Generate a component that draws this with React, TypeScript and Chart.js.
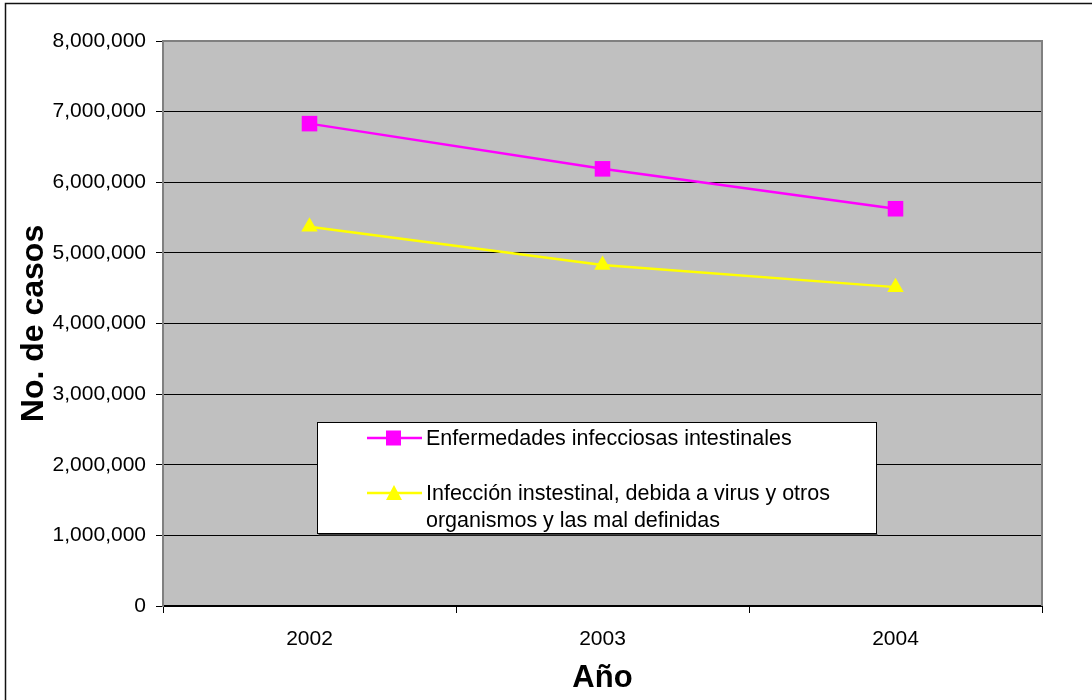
import React, { useEffect, useRef } from "react";
import { Chart, registerables } from "chart.js";

Chart.register(...registerables);

const years = ["2002", "2003", "2004"];
const enfermedades = [6830000, 6190000, 5625000];
const infeccion = [5370000, 4830000, 4515000];
const yMin = 0;
const yMax = 8000000;
const yStep = 1000000;
const xTitle = "Año";
const yTitle = "No. de casos";
const legendLabels = [
  ["Enfermedades infecciosas intestinales"],
  ["Infección instestinal, debida a virus y otros", "organismos y las mal definidas"],
];

const FONT = "'Liberation Sans', Arial, Helvetica, sans-serif";
const MAGENTA = "#FF00FF";
const YELLOW = "#FFFF00";

const decorPlugin = {
  id: "decor",
  beforeDraw(chart: any) {
    const { ctx, chartArea: a, width, height } = chart;
    ctx.save();
    ctx.fillStyle = "#ffffff";
    ctx.fillRect(0, 0, width, height);
    ctx.fillStyle = "#C0C0C0";
    ctx.fillRect(a.left, a.top, a.right - a.left, a.bottom - a.top);
    ctx.strokeStyle = "#111111";
    ctx.lineWidth = 1.5;
    ctx.beginPath();
    ctx.moveTo(5.5, height);
    ctx.lineTo(5.5, 3.5);
    ctx.lineTo(width, 3.5);
    ctx.stroke();
    ctx.restore();
  },
  beforeDatasetsDraw(chart: any) {
    const { ctx, chartArea: a } = chart;
    ctx.save();
    ctx.strokeStyle = "#808080";
    ctx.lineWidth = 2;
    ctx.beginPath();
    ctx.moveTo(a.left, a.top);
    ctx.lineTo(a.right, a.top);
    ctx.lineTo(a.right, a.bottom);
    ctx.stroke();
    ctx.restore();
  },
  afterDraw(chart: any) {
    const { ctx } = chart;
    ctx.save();
    const bx = 317.5, by = 422.5, bw = 559, bh = 111;
    ctx.fillStyle = "#ffffff";
    ctx.fillRect(bx, by, bw, bh);
    ctx.strokeStyle = "#000000";
    ctx.lineWidth = 1;
    ctx.strokeRect(bx, by, bw, bh);
    ctx.fillStyle = "#404040";
    ctx.fillRect(bx + 1, by + bh + 0.5, bw, 1.5);

    const rows = [
      { y: 438, color: MAGENTA, shape: "square" },
      { y: 493, color: YELLOW, shape: "triangle" },
    ];
    rows.forEach((r, i) => {
      ctx.strokeStyle = r.color;
      ctx.lineWidth = 2.5;
      ctx.beginPath();
      ctx.moveTo(367, r.y);
      ctx.lineTo(422, r.y);
      ctx.stroke();
      ctx.fillStyle = r.color;
      if (r.shape === "square") {
        ctx.fillRect(386, r.y - 7.5, 15, 15);
      } else {
        ctx.beginPath();
        ctx.moveTo(394, r.y - 8);
        ctx.lineTo(402, r.y + 7);
        ctx.lineTo(386, r.y + 7);
        ctx.closePath();
        ctx.fill();
      }
      ctx.fillStyle = "#000000";
      ctx.font = `21.5px ${FONT}`;
      ctx.textBaseline = "middle";
      ctx.textAlign = "left";
      legendLabels[i].forEach((t, j) => {
        ctx.fillText(t, 426, r.y + 1 + j * 27);
      });
    });
    ctx.restore();
  },
};

export default function App() {
  const ref = useRef<HTMLCanvasElement | null>(null);
  useEffect(() => {
    if (!ref.current) return;
    const chart = new Chart(ref.current, {
      type: "line",
      data: {
        labels: years,
        datasets: [
          {
            label: legendLabels[0].join(" "),
            data: enfermedades,
            borderColor: MAGENTA,
            backgroundColor: MAGENTA,
            borderWidth: 2.5,
            pointStyle: "rect",
            pointRadius: 11,
            pointHoverRadius: 11,
            pointBorderWidth: 0,
            tension: 0,
          },
          {
            label: legendLabels[1].join(" "),
            data: infeccion,
            borderColor: YELLOW,
            backgroundColor: YELLOW,
            borderWidth: 2.5,
            pointStyle: "triangle",
            pointRadius: 9.5,
            pointHoverRadius: 9.5,
            pointBorderWidth: 0,
            tension: 0,
          },
        ],
      },
      options: {
        animation: false,
        responsive: false,
        maintainAspectRatio: false,
        events: [],
        layout: { padding: { left: 0, top: 41, right: 50, bottom: 0 } },
        plugins: {
          legend: { display: false },
          tooltip: { enabled: false },
          title: { display: false },
        },
        scales: {
          x: {
            type: "category",
            offset: true,
            afterFit: (s: any) => {
              s.height = 94;
            },
            grid: {
              display: true,
              offset: true,
              drawOnChartArea: false,
              drawTicks: true,
              tickLength: 7,
              color: "#000000",
              lineWidth: 1,
            },
            border: { display: true, color: "#000000", width: 2 },
            ticks: {
              color: "#000000",
              font: { family: FONT, size: 21 },
              padding: 14,
              maxRotation: 0,
            },
            title: {
              display: true,
              text: xTitle,
              color: "#000000",
              font: { family: FONT, size: 31, weight: "bold" },
              padding: { top: 0, bottom: 3 },
            },
          },
          y: {
            min: yMin,
            max: yMax,
            afterFit: (s: any) => {
              s.width = 163;
            },
            grid: {
              color: "#000000",
              lineWidth: 1,
              drawTicks: true,
              tickLength: 7,
            },
            border: { display: true, color: "#808080", width: 2 },
            ticks: {
              stepSize: yStep,
              color: "#000000",
              font: { family: FONT, size: 21 },
              padding: 10,
              callback: (v: any) => Number(v).toLocaleString("en-US"),
            },
            title: {
              display: true,
              text: yTitle,
              color: "#000000",
              font: { family: FONT, size: 32, weight: "bold" },
              padding: { top: 15, bottom: 0 },
            },
          },
        },
      },
      plugins: [decorPlugin],
    });
    return () => chart.destroy();
  }, []);
  return (
    <div style={{ position: "fixed", left: 0, top: 0, width: 1092, height: 700, background: "#fff" }}>
      <canvas ref={ref} width={1092} height={700} style={{ width: 1092, height: 700, display: "block" }} />
    </div>
  );
}
